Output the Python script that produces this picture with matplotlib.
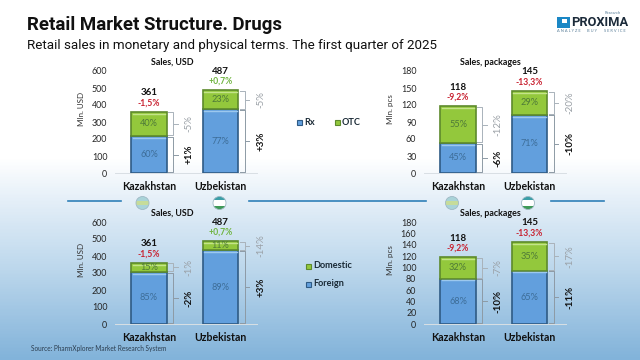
import matplotlib
matplotlib.use('Agg')
import numpy as np
from matplotlib import pyplot as plt
from matplotlib.colors import LinearSegmentedColormap
from matplotlib.patches import Circle, Rectangle

plt.rcParams['font.family'] = ['Lato', 'DejaVu Sans']

countries = ['Kazakhstan', 'Uzbekistan']

# totals and change vs last year, same totals top and bottom
usd_totals = [361, 487]
usd_change = ['-1,5%', '+0,7%']
pcs_totals = [118, 145]
pcs_change = ['-9,2%', '-13,3%']

usd_ticks = [0, 100, 200, 300, 400, 500, 600]
pcs_ticks_top = [0, 30, 60, 90, 120, 150, 180]
pcs_ticks_bottom = [0, 20, 40, 60, 80, 100, 120, 140, 160, 180]

# shares in %, lower segment then upper segment
usd_rx = [60, 77]
usd_otc = [40, 23]
pcs_rx = [45, 71]
pcs_otc = [55, 29]
usd_foreign = [85, 89]
usd_domestic = [15, 11]
pcs_foreign = [68, 65]
pcs_domestic = [32, 35]

# growth labels beside the brackets
usd_rx_growth = ['+1%', '+3%']
usd_otc_growth = ['-5%', '-5%']
pcs_rx_growth = ['-6%', '-10%']
pcs_otc_growth = ['-12%', '-20%']
usd_foreign_growth = ['-2%', '+3%']
usd_domestic_growth = ['-1%', '-14%']
pcs_foreign_growth = ['-10%', '-11%']
pcs_domestic_growth = ['-7%', '-17%']

W, H = 640, 360
BLUE, BLUE_DK, BLUE_LT = '#629fdd', '#2f5b85', '#9cc8ee'
GREEN, GREEN_DK, GREEN_LT = '#93c83c', '#5d8a2c', '#c4e48a'
SPACING = 71.5

fig = plt.figure(figsize=(W / 100, H / 100), dpi=100)

# background and free text go on one axes in pixel coordinates
bg = fig.add_axes([0, 0, 1, 1])
bg.set_xlim(0, W)
bg.set_ylim(H, 0)
bg.axis('off')
cmap = LinearSegmentedColormap.from_list('bg', [(0, '#ffffff'), (0.44, '#ffffff'), (0.56, '#e4eff8'),
                                                (0.75, '#bcd7ec'), (1, '#82b3da')])
bg.imshow(np.linspace(0, 1, 360).reshape(-1, 1), cmap=cmap, extent=(0, W, H, 0), aspect='auto', zorder=0)


def panel(x_first, y0, y_top, ticks, totals, change, low, high, low_g, high_g, title, unit, title_x, title_y):
    # axes left edge sits 34 px before the first bar centre
    left, right = x_first - 34, x_first + 108
    top_val = ticks[-1]
    ax = fig.add_axes([left / W, 1 - y0 / H, (right - left) / W, (y0 - y_top) / H])
    ax.patch.set_alpha(0)
    ax.set_xlim(-34 / SPACING, 108 / SPACING)
    ax.set_ylim(0, top_val)
    for s in ['top', 'right', 'left']:
        ax.spines[s].set_visible(False)
    ax.spines['bottom'].set_color('#d9dfe4')
    ax.spines['bottom'].set_linewidth(0.7)
    ax.set_yticks(ticks)
    ax.tick_params(axis='y', length=0, labelsize=6.4, labelcolor='#262626', pad=5.5)
    ax.set_xticks([0, 1])
    ax.set_xticklabels(countries, fontsize=7.6, fontweight='bold', color='#111111')
    ax.tick_params(axis='x', length=0, pad=6)
    px = top_val / (y0 - y_top)

    for i, total in enumerate(totals):
        low_h = total * low[i] / 100
        high_h = total * high[i] / 100
        ax.bar(i, low_h, 0.5, color=BLUE, edgecolor=BLUE_DK, linewidth=1.2)
        ax.bar(i, high_h, 0.5, bottom=low_h, color=GREEN, edgecolor=GREEN_DK, linewidth=1.2)
        ax.plot([i - 0.23, i + 0.23], [low_h - 1.9 * px] * 2, color=BLUE_LT, lw=1)
        ax.plot([i - 0.23, i + 0.23], [total - 1.9 * px] * 2, color=GREEN_LT, lw=1)
        ax.text(i, low_h / 2, f'{low[i]}%', ha='center', va='center', fontsize=6.6, color='#3d6d98')
        ax.text(i, low_h + high_h / 2, f'{high[i]}%', ha='center', va='center', fontsize=6.6, color='#4f7a38')
        ax.text(i, total + 19 * px, str(total), ha='center', va='center', fontsize=7, fontweight='bold',
                color='#111111')
        col = '#c8202f' if change[i].startswith('-') else '#6fb43f'
        ax.text(i, total + 9 * px, change[i], ha='center', va='center', fontsize=6.2, fontweight='bold', color=col)

        # brackets beside each stacked segment
        x1 = i + 0.27
        x2 = x1 + 5 / SPACING
        x3 = x2 + 4.5 / SPACING
        xt = x2 + 16 / SPACING
        for lo, hi, txt, tcol, bcol, bold in [(0, low_h, low_g[i], '#111111', '#8d9aa5', True),
                                              (low_h, total, high_g[i], '#9aa0a6', '#a9b2ba', False)]:
            g = 0.7 * px
            ax.plot([x1, x2, x2, x1], [lo + g, lo + g, hi - g, hi - g], color=bcol, lw=0.7, clip_on=False)
            mid = (lo + hi) / 2
            ax.plot([x2, x3], [mid, mid], color=bcol, lw=0.7, clip_on=False)
            ax.text(xt, mid, txt, rotation=90, ha='center', va='center', fontsize=7,
                    fontweight='bold' if bold else 'normal', color=tcol, clip_on=False)

    bg.text(title_x, title_y, title, ha='center', va='center', fontsize=6.4, fontweight='bold', color='#111111')
    bg.text(x_first - 68, (y0 + y_top) / 2 - 13, unit, rotation=90, ha='center', va='center', fontsize=5.8,
            color='#333333')
    return ax


panel(149, 173, 71, usd_ticks, usd_totals, usd_change, usd_rx, usd_otc, usd_rx_growth, usd_otc_growth,
      'Sales, USD', 'Mln. USD', 172, 62)
panel(458, 173, 71, pcs_ticks_top, pcs_totals, pcs_change, pcs_rx, pcs_otc, pcs_rx_growth, pcs_otc_growth,
      'Sales, packages', 'Mln. pcs', 490, 62.5)
panel(149, 324, 222, usd_ticks, usd_totals, usd_change, usd_foreign, usd_domestic, usd_foreign_growth,
      usd_domestic_growth, 'Sales, USD', 'Mln. USD', 172, 213)
panel(458, 324, 222, pcs_ticks_bottom, pcs_totals, pcs_change, pcs_foreign, pcs_domestic, pcs_foreign_growth,
      pcs_domestic_growth, 'Sales, packages', 'Mln. pcs', 490, 213.5)

# titles
bg.text(27, 24.5, 'Retail Market Structure. Drugs', fontfamily='Roboto', fontsize=13.4, fontweight='bold',
        va='center', color='#111111')
bg.text(27, 45, 'Retail sales in monetary and physical terms. The first quarter of 2025', fontfamily='Roboto',
        fontsize=9.62, va='center', color='#111111')
bg.text(31, 349, 'Source: PharmXplorer Market Research System', fontsize=4.7, va='center', color='#2c3e50')

# legends
for x, y, col, edge, txt in [(299, 122.5, BLUE, BLUE_DK, 'Rx'), (337, 122.5, GREEN, GREEN_DK, 'OTC'),
                             (308, 266, GREEN, GREEN_DK, 'Domestic'), (308, 284, BLUE, BLUE_DK, 'Foreign')]:
    bg.add_patch(Rectangle((x - 2.5, y - 2.5), 5, 5, facecolor=col, edgecolor=edge, lw=0.8))
    bg.text(x + 5, y, txt, fontsize=6.6, fontweight='bold', va='center', color='#1a2a36')

# separators
for x1, x2 in [(68, 121), (249, 426), (551, 604)]:
    bg.plot([x1, x2], [201, 201], color='#2f80b8', lw=1.2)


def flag(x, y, colors, edges):
    clip = Circle((x, y), 6.5, transform=bg.transData)
    for c, (y1, y2) in zip(colors, edges):
        r = Rectangle((x - 7, y + y1), 14, y2 - y1, facecolor=c, edgecolor='none', zorder=3)
        bg.add_patch(r)
        r.set_clip_path(clip)
    bg.add_patch(Circle((x, y), 6.5, facecolor='none', edgecolor='#9fb8c4', lw=0.6, zorder=4))


for x in [142.5, 452]:
    flag(x, 203, ['#a9d3d8', '#c6dc9a', '#a9d3d8'], [(-7, -2), (-2, 2), (2, 7)])
for x in [219.5, 528]:
    flag(x, 203, ['#3b9fa8', '#ffffff', '#3f9a58'], [(-7, -3), (-3, 3), (3, 7)])

# logo
bg.add_patch(Rectangle((557, 16.5), 13, 11.5, facecolor='#1b87c5', edgecolor='none'))
bg.add_patch(Rectangle((562, 18.5), 4.5, 4, facecolor='#ffffff', edgecolor='none'))
bg.text(571, 22.5, 'PROXIMA', fontfamily='Roboto', fontsize=9.3, fontweight='bold', va='center', color='#1c2b3a')
bg.text(605, 13.5, 'Research', fontsize=3, va='center', color='#5a7f99')
for x, txt in [(557, 'A N A L Y Z E'), (587, 'B U Y'), (604, 'S E R V I C E')]:
    bg.text(x, 30.5, txt, fontsize=2.9, va='center', color='#5a7f99')

fig.savefig('out.png', dpi=100)
